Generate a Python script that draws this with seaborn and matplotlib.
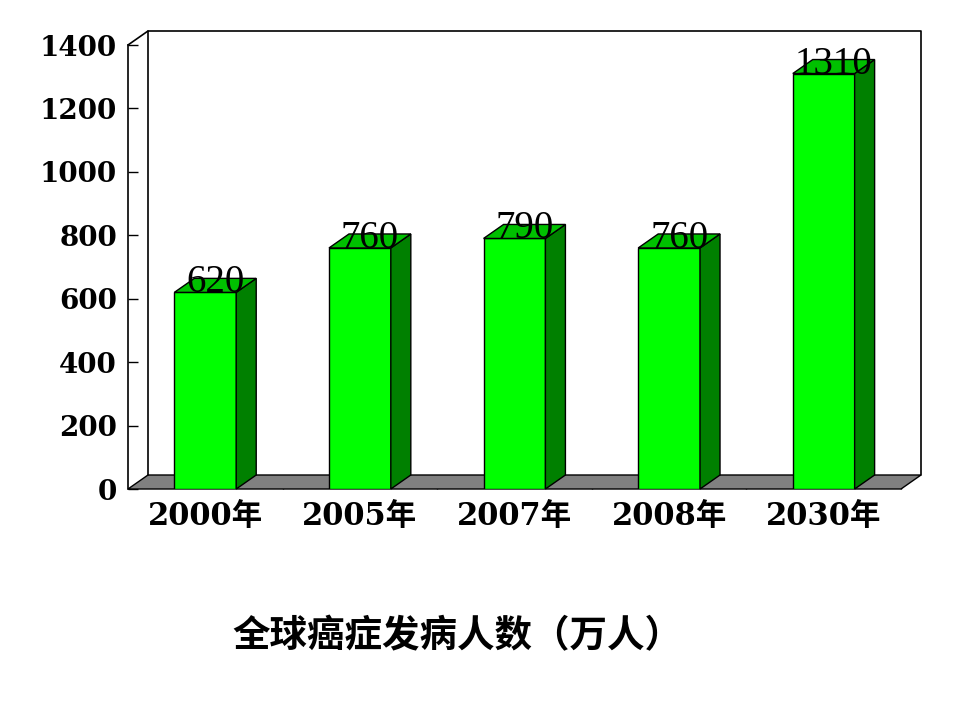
import matplotlib
matplotlib.use("Agg")
import matplotlib.pyplot as plt
import seaborn as sns
import pandas as pd
from matplotlib.patches import Polygon

# data
years = ["2000年", "2005年", "2007年", "2008年", "2030年"]
cases = [620, 760, 790, 760, 1310]
y_ticks = [0, 200, 400, 600, 800, 1000, 1200, 1400]
title = "全球癌症发病人数（万人）"

sns.set_theme(style="white")
plt.rcParams["font.family"] = ["DejaVu Serif", "Noto Sans CJK SC"]
plt.rcParams["text.color"] = "black"
plt.rcParams["xtick.color"] = "black"
plt.rcParams["ytick.color"] = "black"

fig = plt.figure(figsize=(9.6, 7.2), dpi=100)
ax = fig.add_axes([128 / 960, 231 / 720, 773 / 960, 444 / 720])

df = pd.DataFrame({"year": years, "cases": cases})
sns.barplot(data=df, x="year", y="cases", color="#00ff00", saturation=1,
            width=0.4, edgecolor="black", linewidth=1, ax=ax, zorder=3)

ax.set_xlim(-0.5, 4.5)
ax.set_ylim(0, 1400)
ax.set_xlabel("")
ax.set_ylabel("")

# fake depth, in data units (~20px right, ~14px up)
dx = 20 / (773 / 5)
dy = 14 / (444 / 1400)
x0, x1 = -0.5, 4.5

# floor
ax.add_patch(Polygon([(x0, 0), (x1, 0), (x1 + dx, dy), (x0 + dx, dy)],
                     closed=True, facecolor="#808080", edgecolor="black",
                     linewidth=1, clip_on=False, zorder=1))
# back wall + left wall outline
ax.plot([x0 + dx, x0 + dx, x1 + dx, x1 + dx], [dy, 1400 + dy, 1400 + dy, dy],
        color="black", lw=1.2, clip_on=False, zorder=1)
ax.plot([x0, x0 + dx], [1400, 1400 + dy], color="black", lw=1.2,
        clip_on=False, zorder=1)

# side and top faces of the bars
for p, v in zip(ax.patches, cases):
    bx = p.get_x()
    bw = p.get_width()
    h = p.get_height()
    side = [(bx + bw, 0), (bx + bw + dx, dy), (bx + bw + dx, h + dy), (bx + bw, h)]
    top = [(bx, h), (bx + bw, h), (bx + bw + dx, h + dy), (bx + dx, h + dy)]
    ax.add_patch(Polygon(side, closed=True, facecolor="#008000",
                         edgecolor="black", lw=1, clip_on=False, zorder=4))
    ax.add_patch(Polygon(top, closed=True, facecolor="#00c000",
                         edgecolor="black", lw=1, clip_on=False, zorder=4))
    ax.text(bx + bw / 2 + dx / 2, h, str(v), ha="center", va="baseline",
            fontsize=28, family="Liberation Serif", color="black",
            zorder=6, clip_on=False)

for s in ["top", "right", "bottom"]:
    ax.spines[s].set_visible(False)
ax.spines["left"].set_color("black")
ax.spines["left"].set_linewidth(1.2)

ax.set_yticks(y_ticks)
ax.set_yticklabels([str(t) for t in y_ticks], fontsize=20, fontweight="bold")
ax.tick_params(axis="y", direction="in", length=7, width=1, color="black",
               pad=8, left=True)

ax.set_xticks(range(len(years)))
ax.set_xticklabels(years, fontsize=22, fontweight="bold")
ax.set_xticks([0.5, 1.5, 2.5, 3.5, 4.5], minor=True)
ax.tick_params(axis="x", which="major", length=0, pad=9)
ax.tick_params(axis="x", which="minor", direction="in", length=6, width=1,
               color="black", bottom=True)

fig.text(457 / 960, 1 - 636 / 720, title, ha="center", va="center",
         fontsize=27, fontweight="bold", family=["Noto Sans CJK SC"],
         color="black")

fig.savefig("out.png", dpi=100)
